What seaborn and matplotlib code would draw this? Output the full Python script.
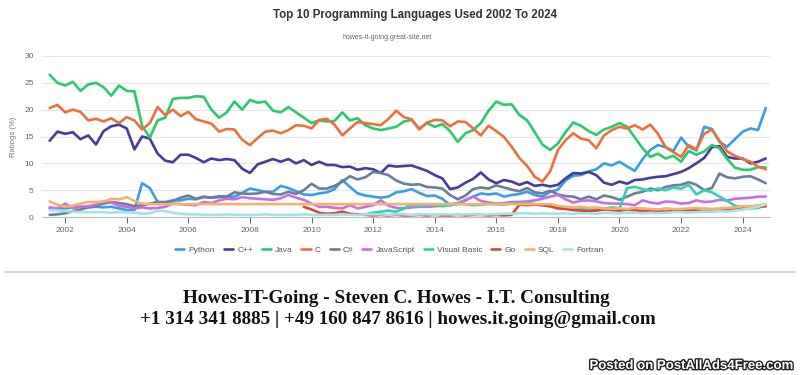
import numpy as np
import pandas as pd
import matplotlib
matplotlib.use("Agg")
import matplotlib.pyplot as plt
import matplotlib.dates as mdates
import matplotlib.patheffects as pe
import seaborn as sns

# quarterly TIOBE-style ratings (%)
start_main = "2001-07-01"
start_vb = "2011-10-01"
start_go = "2009-10-01"

python_vals = [1.6, 1.6,
               1.6, 1.8, 1.9, 1.8, 1.9, 1.8, 1.9, 1.6, 1.3, 1.3, 6.3, 5.4,
               2.8, 2.8, 3.1, 3.1, 3.4, 3.3, 3.7, 3.6, 3.9, 3.8, 3.8, 4.5,
               5.3, 5.0, 4.7, 4.7, 5.8, 5.4, 4.8, 4.2, 4.1, 4.4, 4.6, 5.2,
               6.9, 5.6, 4.4, 4.0, 3.8, 3.6, 3.8, 4.6, 4.8, 5.2, 4.5, 3.9,
               4.0, 3.4, 2.2, 2.4, 3.1, 3.8, 4.4, 4.2, 4.4, 3.8, 4.1, 4.3,
               4.7, 4.1, 3.8, 4.7, 5.1, 6.8, 7.7, 7.8, 8.5, 8.9, 10.0, 9.6,
               10.3, 9.4, 8.6, 10.8, 12.5, 13.4, 13.0, 12.3, 14.8, 13.1, 12.4, 16.8,
               16.4, 14.0, 13.1, 14.5, 15.9, 16.5, 16.2, 20.3]
cpp_vals = [14.2, 15.9,
            15.5, 15.8, 14.5, 15.2, 13.5, 16.0, 16.9, 17.2, 16.5, 12.6, 15.0, 14.6,
            11.8, 10.5, 10.2, 11.6, 11.6, 11.0, 10.2, 10.9, 10.6, 10.8, 10.6, 9.0,
            8.2, 9.8, 10.3, 10.8, 10.3, 10.8, 10.0, 10.6, 9.7, 10.3, 9.7, 9.7,
            9.3, 9.4, 8.8, 9.1, 8.9, 8.2, 9.6, 9.4, 9.5, 9.6, 9.1, 8.6,
            7.8, 7.2, 5.2, 5.5, 6.4, 7.1, 8.3, 7.0, 6.3, 6.9, 6.6, 6.0,
            6.5, 5.8, 6.0, 5.7, 6.0, 7.2, 8.2, 8.1, 8.4, 7.8, 6.4, 6.0,
            6.6, 6.2, 6.9, 7.0, 7.3, 7.5, 7.6, 8.0, 8.4, 9.1, 10.0, 11.0,
            13.0, 13.2, 11.2, 10.9, 10.9, 10.0, 10.3, 10.9]
java_vals = [26.5, 25.0,
             24.5, 25.2, 23.5, 24.7, 25.0, 24.2, 22.6, 24.5, 23.5, 23.4, 17.0, 14.8,
             18.0, 18.5, 22.0, 22.2, 22.2, 22.5, 22.4, 20.0, 18.5, 19.5, 21.5, 20.0,
             21.8, 21.3, 21.5, 19.8, 19.5, 20.5, 19.5, 18.5, 17.5, 18.0, 17.8, 17.9,
             19.5, 18.0, 18.4, 17.1, 16.5, 16.2, 16.5, 16.8, 17.8, 18.1, 16.5, 17.5,
             16.8, 17.3, 16.0, 14.0, 15.6, 16.2, 17.5, 19.8, 21.5, 20.9, 21.0, 19.0,
             18.0, 15.8, 13.5, 12.5, 13.7, 15.8, 17.6, 17.0, 16.0, 15.3, 16.3, 16.8,
             17.5, 16.8, 14.8, 12.8, 11.2, 11.8, 10.9, 11.4, 10.3, 12.3, 11.6, 12.2,
             13.4, 12.8, 10.8, 9.2, 8.8, 8.8, 9.3, 9.2]
c_vals = [20.3, 20.9,
          19.5, 20.0, 19.6, 18.0, 18.3, 17.8, 18.4, 17.5, 18.6, 18.0, 16.3, 17.5,
          20.5, 19.0, 20.0, 18.8, 19.6, 18.2, 17.8, 17.4, 15.9, 16.4, 16.3, 14.4,
          13.4, 14.7, 15.9, 16.1, 15.6, 16.2, 17.1, 17.0, 16.5, 18.1, 18.3, 17.2,
          15.2, 16.5, 17.7, 17.5, 17.3, 17.1, 18.3, 19.8, 18.6, 18.2, 16.3, 17.6,
          18.1, 18.0, 16.9, 17.8, 17.7, 16.5, 15.2, 17.0, 16.0, 14.9, 13.1, 11.0,
          9.5, 7.5, 6.6, 8.5, 12.5, 14.3, 15.6, 14.6, 14.3, 12.8, 15.2, 16.2,
          16.8, 16.5, 17.1, 16.3, 17.2, 15.5, 13.0, 12.1, 11.2, 13.4, 12.6, 15.5,
          16.3, 14.2, 12.2, 11.4, 10.8, 10.3, 9.4, 8.9]
csharp_vals = [0.4, 0.5,
               0.7, 1.1, 1.4, 1.8, 2.1, 2.5, 2.8, 2.6, 2.4, 2.0, 2.2, 2.5,
               2.8, 2.6, 3.0, 3.6, 4.0, 3.4, 3.8, 3.6, 3.7, 3.8, 4.6, 4.4,
               4.3, 4.4, 4.7, 4.3, 4.2, 4.7, 4.3, 5.0, 6.2, 5.3, 5.3, 5.8,
               6.6, 7.6, 7.0, 7.4, 8.4, 8.2, 7.8, 6.8, 6.2, 6.0, 6.1, 5.6,
               5.5, 5.3, 4.1, 3.3, 4.0, 5.2, 5.5, 5.3, 5.9, 5.5, 5.1, 4.8,
               5.4, 4.6, 4.4, 4.9, 4.2, 3.9, 3.8, 3.3, 3.8, 3.3, 4.0, 3.7,
               3.2, 3.8, 4.4, 4.7, 5.3, 5.0, 5.6, 5.9, 6.0, 6.5, 6.0, 5.0,
               5.4, 8.1, 7.4, 7.2, 7.5, 7.6, 7.0, 6.3]
js_vals = [1.8, 1.6,
           2.5, 1.7, 1.9, 2.0, 2.3, 2.9, 2.7, 2.1, 1.9, 1.6, 1.8, 1.6,
           1.7, 1.9, 2.5, 2.4, 2.3, 2.2, 2.8, 2.6, 3.1, 3.4, 3.3, 3.7,
           3.5, 3.4, 3.3, 3.2, 3.5, 4.1, 3.6, 3.2, 2.5, 1.9, 1.9, 1.7,
           1.6, 2.2, 1.6, 1.9, 2.2, 3.1, 2.1, 1.7, 1.6, 1.8, 1.9, 1.9,
           2.0, 2.1, 2.4, 2.6, 3.2, 3.8, 3.0, 2.7, 2.5, 2.6, 2.8, 2.8,
           2.9, 3.1, 3.4, 3.8, 4.1, 3.3, 2.7, 3.0, 3.1, 2.9, 2.6, 2.5,
           2.5, 2.4, 2.2, 3.1, 2.7, 2.5, 2.9, 2.8, 2.5, 2.6, 3.1, 2.8,
           2.9, 3.2, 3.1, 3.4, 3.5, 3.6, 3.8, 3.8]
vb_vals = [0.5,
           0.8, 1.0, 1.2, 1.0, 1.6, 2.4, 2.0, 2.2, 2.3, 2.0, 2.2, 2.5,
           2.4, 2.2, 2.3, 2.5, 2.4, 2.3, 2.6, 2.5, 2.6, 2.4, 2.2, 2.0,
           1.9, 1.7, 1.8, 1.6, 1.5, 1.6, 1.5, 1.8, 1.6, 5.4, 5.6, 5.2,
           4.9, 5.3, 5.0, 5.5, 5.3, 6.0, 4.2, 5.0, 4.6, 3.8, 3.0, 2.1,
           1.8, 1.6, 1.7, 2.2]
go_vals = [1.9,
           1.4, 0.8, 0.6, 0.7, 1.0, 0.6, 0.5, 0.4, 0.3, 0.4, 0.3, 0.4,
           0.3, 0.3, 0.4, 0.3, 0.4, 0.3, 0.3, 0.4, 0.3, 0.4, 0.4, 0.3,
           0.4, 0.3, 0.4, 2.3, 2.2, 2.3, 2.2, 2.0, 1.6, 1.5, 1.3, 1.2,
           1.1, 1.2, 1.4, 1.3, 1.2, 1.4, 1.3, 1.1, 1.2, 1.1, 1.0, 1.1,
           1.2, 1.3, 1.2, 1.1, 1.2, 1.3, 1.5, 1.4, 1.6, 1.7, 1.9, 2.0]
sql_vals = [2.9, 2.3,
            1.9, 2.1, 2.5, 2.8, 2.8, 2.9, 3.4, 3.3, 3.7, 3.0, 2.5, 2.4,
            2.4, 2.4, 2.4, 2.4, 2.4, 2.4, 2.4, 2.4, 2.4, 2.4, 2.4, 2.4,
            2.4, 2.4, 2.4, 2.4, 2.4, 2.4, 2.4, 2.4, 2.4, 2.4, 2.4, 2.4,
            2.4, 2.4, 2.4, 2.4, 2.4, 2.4, 2.4, 2.4, 2.4, 2.4, 2.4, 2.4,
            2.4, 2.4, 2.4, 2.4, 2.4, 2.4, 2.4, 2.4, 2.4, 2.4, 2.4, 2.4,
            2.4, 2.4, 2.4, 2.4, 2.1, 1.9, 1.8, 1.9, 1.7, 1.8, 1.6, 1.5,
            1.6, 1.5, 1.7, 1.6, 1.5, 1.4, 1.6, 1.5, 1.5, 1.6, 1.7, 1.6,
            1.5, 1.6, 1.7, 1.8, 2.0, 2.0, 2.2, 2.3]
fortran_vals = [1.3, 1.2,
                1.1, 1.0, 0.9, 0.9, 0.9, 0.9, 0.8, 0.9, 0.9, 0.8, 0.6, 0.7,
                1.2, 1.1, 0.8, 0.6, 0.5, 0.5, 0.4, 0.4, 0.4, 0.5, 0.4, 0.4,
                0.4, 0.4, 0.5, 0.4, 0.4, 0.4, 0.4, 0.5, 0.4, 0.4, 0.4, 0.4,
                0.5, 0.4, 0.4, 0.5, 0.5, 0.5, 0.4, 0.5, 0.5, 0.4, 0.5, 0.5,
                0.4, 0.5, 0.5, 0.4, 0.5, 0.5, 0.4, 0.5, 0.5, 0.6, 0.6, 0.7,
                0.7, 0.6, 0.7, 0.6, 0.6, 0.7, 0.6, 0.7, 0.7, 0.6, 0.8, 0.7,
                0.7, 0.8, 0.8, 0.7, 0.8, 0.7, 0.8, 0.9, 0.9, 0.8, 0.9, 1.0,
                1.0, 1.1, 1.0, 1.2, 1.4, 1.6, 1.9, 2.4]

languages = ["Python", "C++", "Java", "C", "C#", "JavaScript",
             "Visual Basic", "Go", "SQL", "Fortran"]
colors = ["#3a9ee0", "#463c9c", "#2bc86e", "#ec703c", "#6a7d9c",
          "#c86fe0", "#2fd3b0", "#d8453a", "#f4b26c", "#a2e3e6"]
year_ticks = list(range(2002, 2025, 2))

series = {
    "Python": (start_main, python_vals), "C++": (start_main, cpp_vals),
    "Java": (start_main, java_vals), "C": (start_main, c_vals),
    "C#": (start_main, csharp_vals), "JavaScript": (start_main, js_vals),
    "Visual Basic": (start_vb, vb_vals), "Go": (start_go, go_vals),
    "SQL": (start_main, sql_vals), "Fortran": (start_main, fortran_vals),
}
frames = []
for lang in languages:
    st, vals = series[lang]
    frames.append(pd.DataFrame({
        "date": pd.date_range(st, periods=len(vals), freq="3MS"),
        "rating": vals, "language": lang}))
df = pd.concat(frames, ignore_index=True)

sns.set_style("white")
plt.rcParams["font.family"] = ["Liberation Sans", "DejaVu Sans"]

fig = plt.figure(figsize=(8, 3.75), dpi=100)
ax = fig.add_axes([0.0525, 0.4213, 0.91, 0.4294])
sns.lineplot(data=df, x="date", y="rating", hue="language",
             hue_order=languages, palette=dict(zip(languages, colors)),
             linewidth=1.9, ax=ax)

ax.set_ylim(0, 30)
ax.set_yticks([0, 5, 10, 15, 20, 25, 30])
ax.set_xlim(pd.Timestamp("2001-04-01"), pd.Timestamp("2024-11-20"))
ax.set_xticks([pd.Timestamp(f"{y}-01-01") for y in year_ticks])
ax.xaxis.set_major_formatter(mdates.DateFormatter("%Y"))
ax.grid(axis="y", color="#e6e6e6", linewidth=0.8)
ax.set_axisbelow(True)
for s in ["top", "right", "left"]:
    ax.spines[s].set_visible(False)
ax.spines["bottom"].set_color("#bfbfbf")
ax.tick_params(axis="x", colors="#666666", labelsize=6, length=4,
               width=0.7, direction="out", bottom=True, pad=3)
ax.tick_params(axis="y", colors="#666666", labelsize=6, length=0, pad=6)
ax.set_xlabel("")
ax.set_ylabel("Ratings (%)", fontsize=5.5, color="#777777", labelpad=5)

handles, labels = ax.get_legend_handles_labels()
ax.get_legend().remove()
fig.legend(handles, labels, loc="center", bbox_to_anchor=(0.487, 0.333),
           ncol=10, frameon=False, fontsize=6, labelcolor="#555555",
           handlelength=1.1, handletextpad=0.5, columnspacing=1.05)

fig.text(0.519, 0.96, "Top 10 Programming Languages Used 2002 To 2024",
         ha="center", va="center", fontsize=8.3, fontweight="bold",
         color="#333333")
fig.text(0.484, 0.899, "howes-it-going.great-site.net", ha="center",
         va="center", fontsize=5, color="#666666")

fig.add_artist(plt.Line2D([0.006, 0.994], [0.275, 0.275],
                          transform=fig.transFigure, color="#d0d0d0",
                          linewidth=1.2))
fig.text(0.495, 0.205, "Howes-IT-Going - Steven C. Howes - I.T. Consulting",
         ha="center", va="center", fontsize=13.8, fontweight="bold",
         family="Liberation Serif", color="#111111")
fig.text(0.497, 0.147, "+1 314 341 8885 | +49 160 847 8616 | howes.it.going@gmail.com",
         ha="center", va="center", fontsize=13.8, fontweight="bold",
         family="Liberation Serif", color="#111111")

wm = fig.text(0.992, 0.024, "Posted on PostAllAds4Free.com", ha="right",
              va="center", fontsize=9.5, fontweight="bold", color="white")
wm.set_path_effects([pe.withStroke(linewidth=2, foreground="#222222")])

fig.savefig("out.png", dpi=100, facecolor="white")
